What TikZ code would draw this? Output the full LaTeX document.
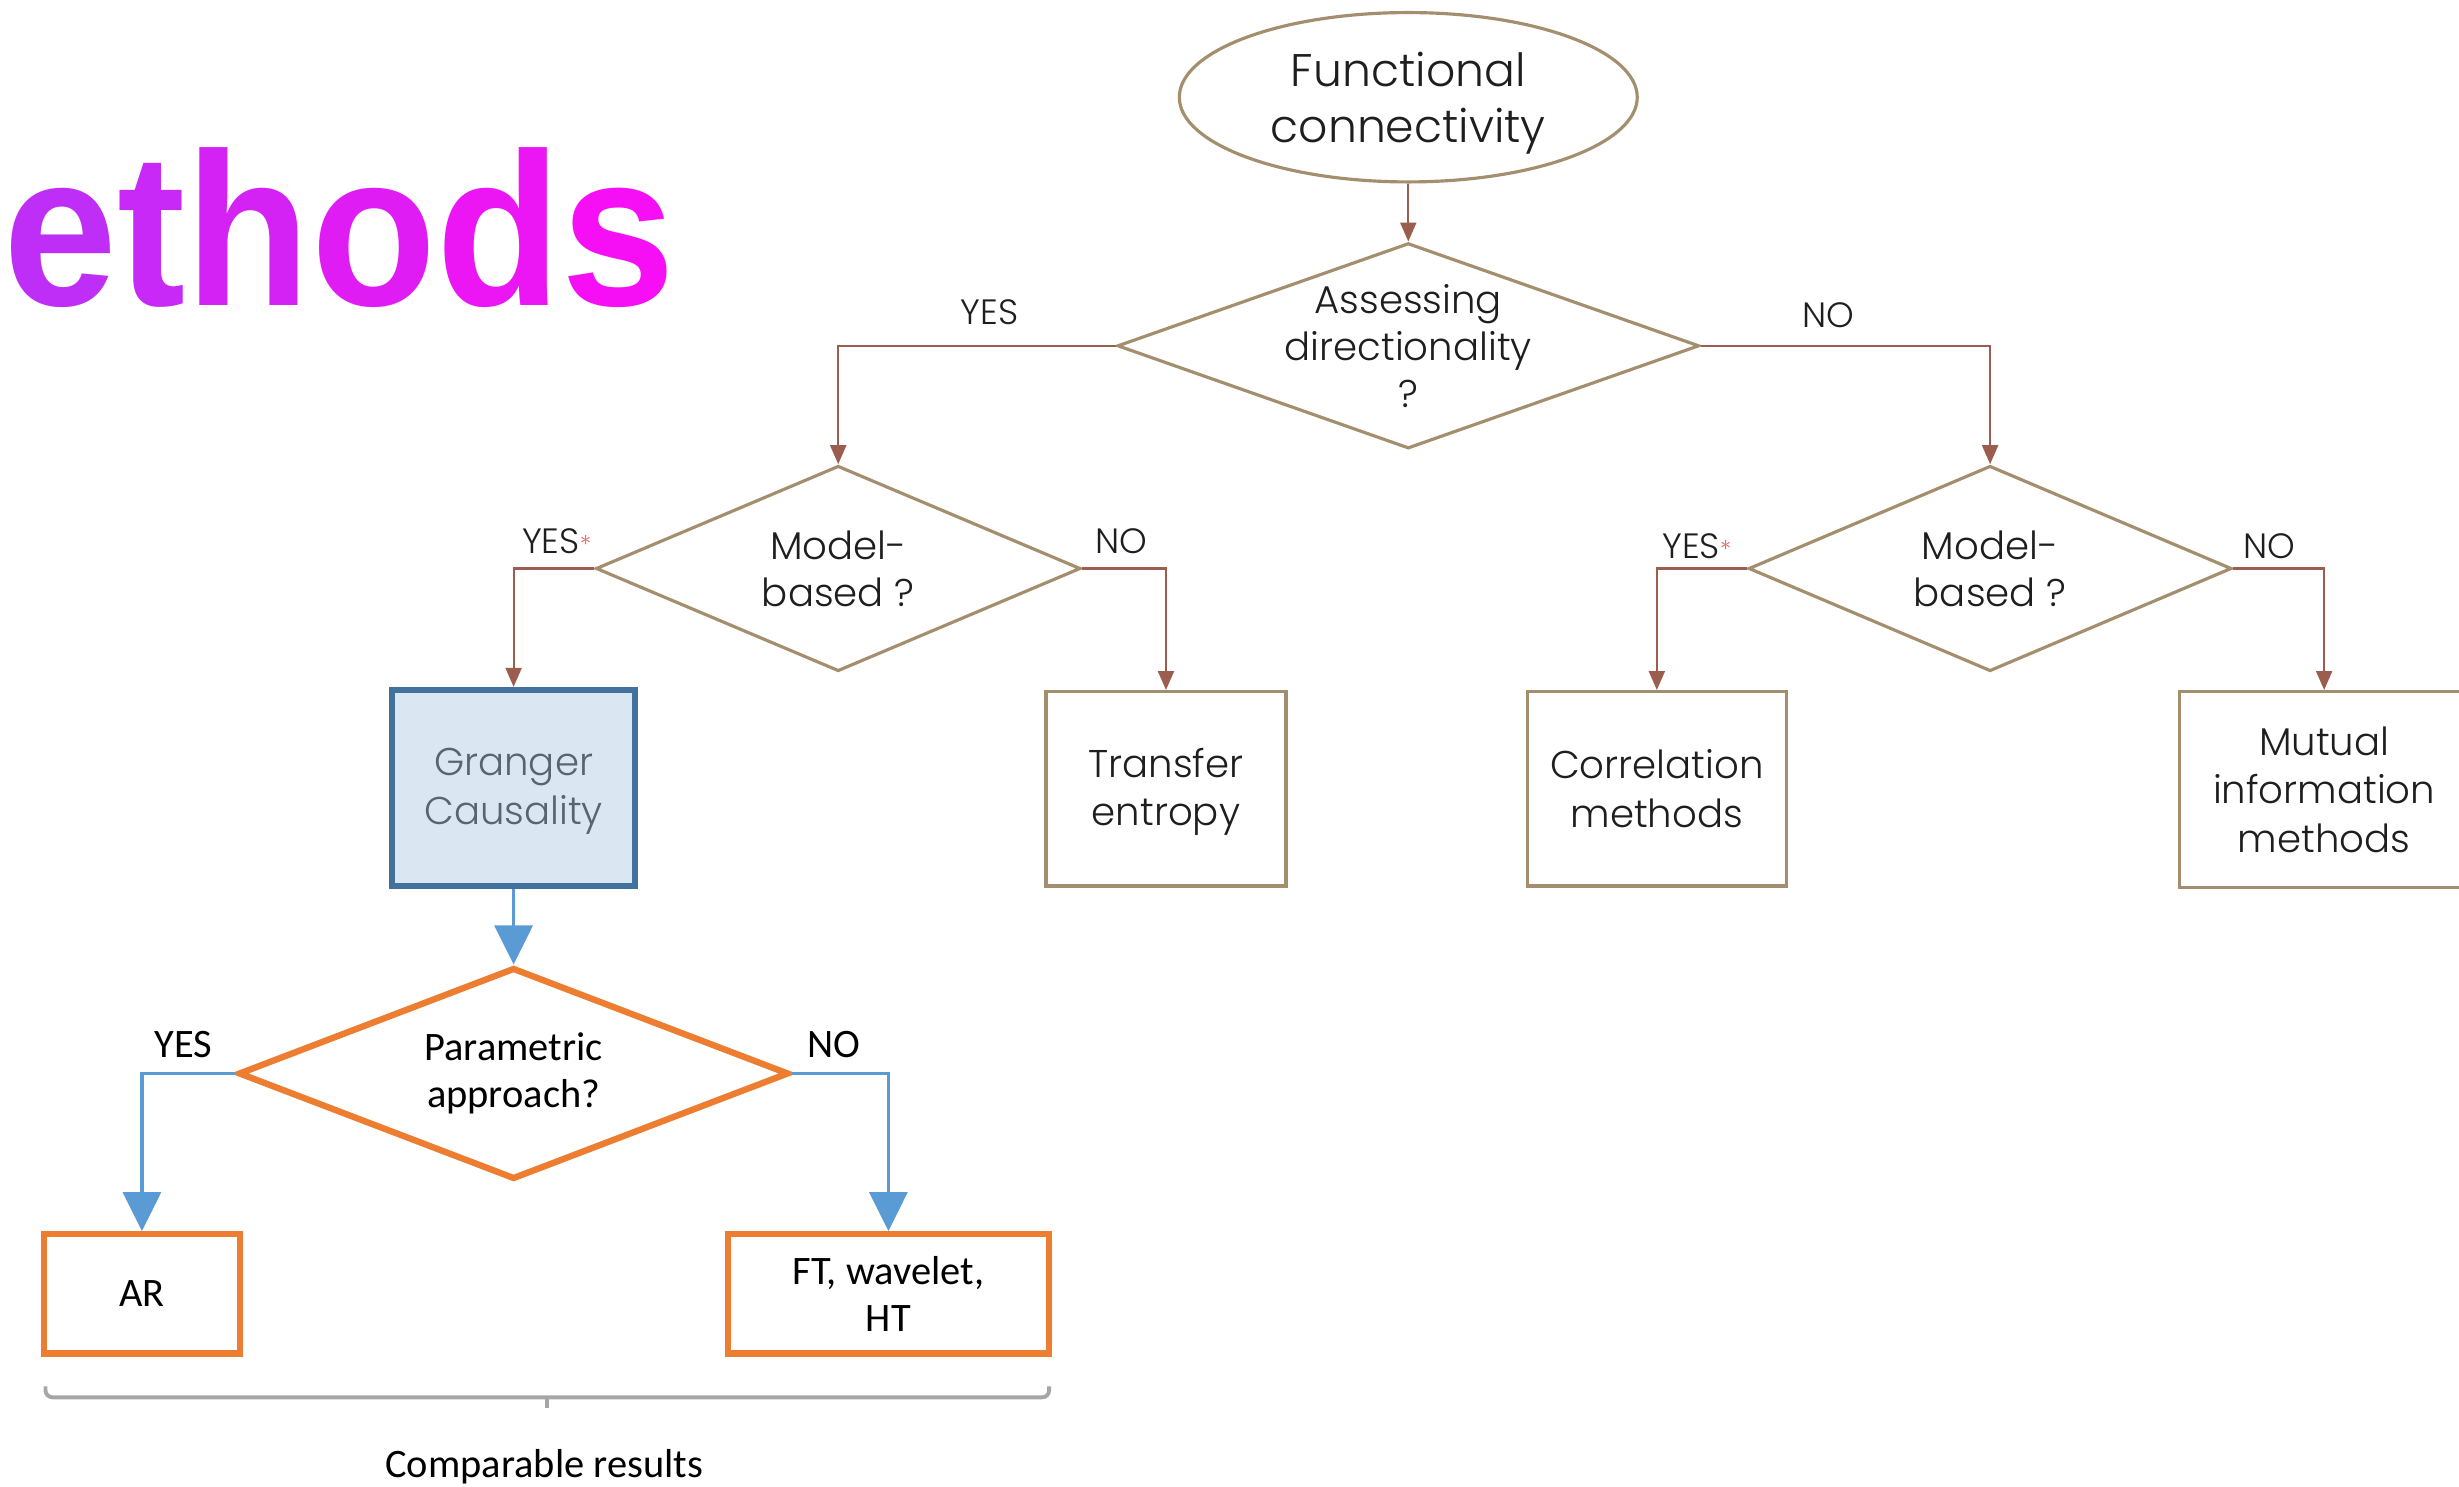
\documentclass[tikz,border=0pt]{standalone}
\usepackage{fontspec}
\usepackage{graphicx}
\usetikzlibrary{shapes.geometric, arrows.meta}
\setmainfont{Carlito}
\IfFontExistsTF{Poppins Light}{\newfontfamily\geofont{Poppins Light}}{\newfontfamily\geofont{Poppins}}
\newfontfamily\headfont{Liberation Sans Bold}

\newdimen\pxu \pxu=0.1568mm

\definecolor{fctan}{RGB}{163,143,110}
\definecolor{fcbrown}{RGB}{155,94,78}
\definecolor{fctext}{RGB}{30,30,30}
\definecolor{fcred}{RGB}{232,110,110}
\definecolor{fcblue}{RGB}{91,155,213}
\definecolor{fcorange}{RGB}{237,125,49}
\definecolor{gcfill}{RGB}{218,230,242}
\definecolor{gcedge}{RGB}{65,113,156}
\definecolor{gctext}{RGB}{90,100,112}
\definecolor{bracegray}{RGB}{166,166,166}
\definecolor{magL}{RGB}{188,48,246}
\definecolor{magR}{RGB}{248,14,244}

\tikzset{
  geo/.style={font=\geofont\fontsize{11}{13.3}\selectfont, text=fctext, align=center},
  boxtxt/.style={font=\geofont\fontsize{11}{13.8}\selectfont, text=fctext, align=center},
  lbl/.style={font=\geofont\fontsize{10}{12}\selectfont, text=fctext, inner sep=0pt},
  cal/.style={font=\fontsize{11.5}{13.5}\selectfont, text=black, align=center},
  decision/.style={diamond, draw=fctan, line width=0.9pt, inner sep=0pt},
  outcome/.style={rectangle, draw=fctan, line width=0.9pt, inner sep=0pt},
  flow/.style={draw=fcbrown, line width=0.6pt, -{Triangle[length=1.9mm, width=1.6mm]}},
  bflow/.style={draw=fcblue, line width=0.9pt, -{Triangle[length=3.9mm, width=3.8mm]}},
  odecision/.style={diamond, draw=fcorange, line width=1.8pt, inner sep=0pt},
  obox/.style={rectangle, draw=fcorange, line width=1.8pt, inner sep=0pt},
}

\begin{document}
\begin{tikzpicture}[x=0.1568mm, y=-0.1568mm]
\useasboundingbox (0,0) rectangle (1568,948);

% heading
\node[anchor=base west, inner sep=0pt] (title) at (2,195)
  {\headfont\fontsize{62}{62}\selectfont\scalebox{0.94}[1]{%
   \textcolor{magR!5!magL}{e}\textcolor{magR!22!magL}{t}\textcolor{magR!40!magL}{h}%
   \textcolor{magR!60!magL}{o}\textcolor{magR!80!magL}{d}\textcolor{magR!97!magL}{s}}};

% upper decision tree
\node[ellipse, draw=fctan, line width=0.9pt, inner sep=0pt,
      minimum width=292\pxu, minimum height=108\pxu] (fc) at (898,62) {};
\node[geo, font=\geofont\fontsize{13}{16}\selectfont] at ([yshift=-0.6mm]fc.center) {Functional\\connectivity};

\node[decision, minimum width=371\pxu, minimum height=131\pxu] (d1) at (898,220.5) {};
\node[geo] at (d1) {Assessing\\directionality\\?};

\node[decision, minimum width=309\pxu, minimum height=131\pxu] (d2) at (534.5,362.5) {};
\node[geo] at (d2) {Model-\\based ?};

\node[decision, minimum width=308\pxu, minimum height=131\pxu] (d3) at (1269,362.5) {};
\node[geo] at (d3) {Model-\\based ?};

\node[rectangle, draw=gcedge, fill=gcfill, line width=1.8pt, inner sep=0pt,
      minimum width=155\pxu, minimum height=125\pxu] (gc) at (327.5,502.5) {};
\node[boxtxt, text=gctext] at ([yshift=-0.3mm]gc.center) {Granger\\Causality};

\node[outcome, minimum width=153\pxu, minimum height=124\pxu] (te) at (743.5,503) {};
\node[boxtxt] at ([yshift=-0.3mm]te.center) {Transfer\\entropy};

\node[outcome, minimum width=165\pxu, minimum height=124\pxu] (cm) at (1056.5,503) {};
\node[boxtxt] at (cm) {Correlation\\methods};

\node[outcome, minimum width=184\pxu, minimum height=125\pxu] (mi) at (1482,503.5) {};
\node[boxtxt] at (mi) {Mutual\\information\\methods};

\draw[flow] (fc.south) -- (d1.north);
\draw[flow] (d1.west) -| (d2.north);
\draw[flow] (d1.east) -| (d3.north);
\draw[flow] (d2.west) -| (gc.north);
\draw[flow] (d2.east) -| (te.north);
\draw[flow] (d3.west) -| (cm.north);
\draw[flow] (d3.east) -| (mi.north);

\node[lbl] (y1) at (631,199) {YES};
\node[lbl] (n1) at (1166,201) {NO};
\node[lbl] (y2) at (355,345) {YES{\color{fcred}\fontsize{7}{7}\selectfont *}};
\node[lbl] (n2) at (715,345) {NO};
\node[lbl] (y3) at (1082,348) {YES{\color{fcred}\fontsize{7}{7}\selectfont *}};
\node[lbl] (n3) at (1447,348) {NO};

% parametric branch
\node[odecision, minimum width=351\pxu, minimum height=135\pxu] (pa) at (327.5,684.5) {};
\node[cal] at (pa) {Parametric\\approach?};

\node[obox, minimum width=125\pxu, minimum height=76\pxu] (ar) at (90.5,825) {};
\node[cal] at (ar) {AR};

\node[obox, minimum width=205\pxu, minimum height=76\pxu] (ft) at (566.5,825) {};
\node[cal] at (ft) {FT, wavelet,\\HT};

\draw[bflow] (gc.south) -- (pa.north);
\draw[bflow] (pa.west) -| (ar.north);
\draw[bflow] (pa.east) -| (ft.north);

\node[cal, inner sep=0pt] (y4) at (117,666) {YES};
\node[cal, inner sep=0pt] (n4) at (532,666) {NO};

% brace under both results
\draw[bracegray, line width=1.1pt, rounded corners=2pt]
  (29,884) -- (29,891) -- (669,891) -- (669,884);
\draw[bracegray, line width=1.1pt] (349,891) -- (349,898);
\node[cal, anchor=base] (cr) at (347,942) {Comparable results};
\end{tikzpicture}
\end{document}
